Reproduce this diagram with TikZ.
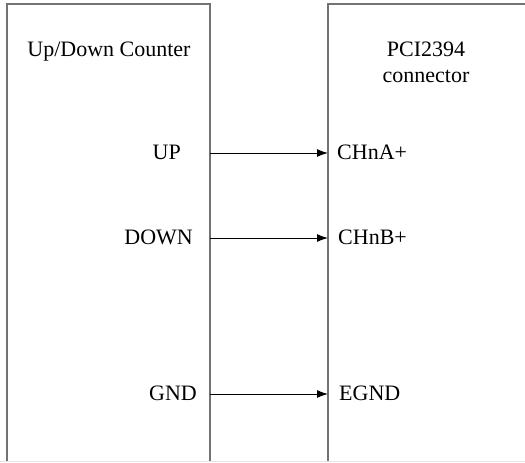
\documentclass[tikz,border=0pt]{standalone}
\usepackage{fontspec}
\setmainfont{Liberation Serif}
\usetikzlibrary{arrows.meta}
\begin{document}
\begin{tikzpicture}[x=1pt,y=-1pt,
  lbl/.style={font=\fontsize{22}{26}\selectfont, inner sep=0pt},
  boxline/.style={draw=black!55, line width=1.4pt},
  wire/.style={draw=black, line width=1pt, -{Latex[length=11pt,width=8pt]}}]
\useasboundingbox (0,0) rectangle (525,463);
% faint bottom edge
\draw[black!10, line width=1pt] (0,461) -- (525,461);
% left box (open at bottom)
\coordinate (lbl0) at (7,461);
\coordinate (ltl) at (7,4);
\coordinate (ltr) at (210,4);
\coordinate (lbr) at (210,461);
\draw[boxline] (lbl0) -- (ltl) -- (ltr) -- (lbr);
% right box (open at bottom and right)
\coordinate (rbl) at (328,461);
\coordinate (rtl) at (328,4);
\coordinate (rtr) at (526,4);
\draw[boxline] (rbl) -- (rtl) -- (rtr);
% titles
\node[lbl, anchor=base] (t1) at (109,56) {Up/Down Counter};
\node[lbl, anchor=base] (t2) at (426,56) {PCI2394};
\node[lbl, anchor=base] (t3) at (426,82) {connector};
% left pins
\node[lbl, anchor=base east] (up) at (181,159) {UP};
\node[lbl, anchor=base east] (down) at (193,244) {DOWN};
\node[lbl, anchor=base east] (gnd) at (197,400) {GND};
% right pins
\node[lbl, anchor=base west] (cha) at (337,159) {CHnA+};
\node[lbl, anchor=base west] (chb) at (338,244) {CHnB+};
\node[lbl, anchor=base west] (egnd) at (339,400) {EGND};
% wire endpoints
\coordinate (upS) at (210,153);
\coordinate (upT) at (328,153);
\coordinate (dnS) at (210,238);
\coordinate (dnT) at (328,238);
\coordinate (gS) at (210,394);
\coordinate (gT) at (328,394);
\draw[wire] (upS) -- (upT);
\draw[wire] (dnS) -- (dnT);
\draw[wire] (gS) -- (gT);
\end{tikzpicture}
\end{document}
